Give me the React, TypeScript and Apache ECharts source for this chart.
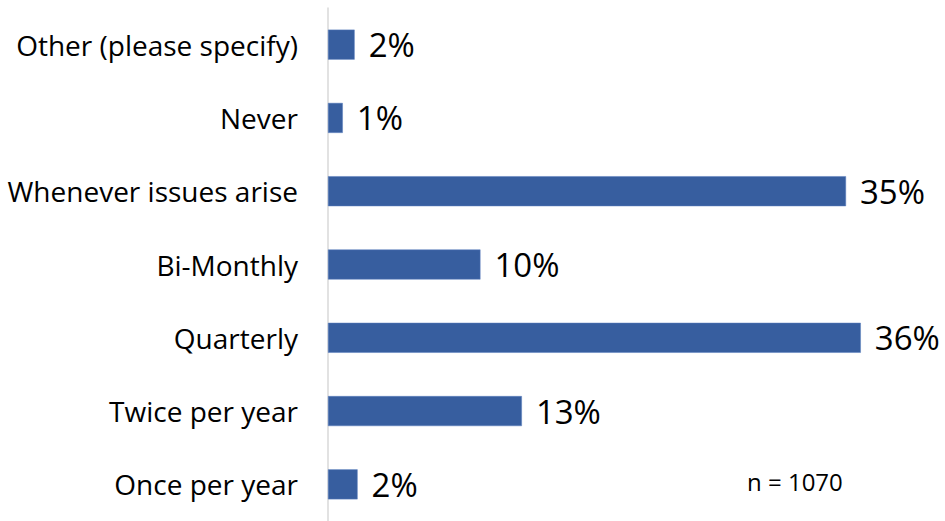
import React, { useEffect, useRef } from "react";
import * as echarts from "echarts";

const categories = [
  "Other (please specify)",
  "Never",
  "Whenever issues arise",
  "Bi-Monthly",
  "Quarterly",
  "Twice per year",
  "Once per year",
];
const values = [1.8, 1.0, 35.0, 10.3, 36.0, 13.1, 2.0];
const sampleNote = "n = 1070";

export default function App() {
  const ref = useRef<HTMLDivElement>(null);
  useEffect(() => {
    if (!ref.current) return;
    const chart = echarts.init(ref.current, null, { renderer: "svg" });
    const font = "'Open Sans', 'Liberation Sans', sans-serif";
    chart.setOption({
      animation: false,
      backgroundColor: "#ffffff",
      grid: { left: 328, top: 8, width: 592, height: 518, containLabel: false },
      xAxis: {
        type: "value",
        min: 0,
        max: 40,
        show: false,
        splitLine: { show: false },
      },
      yAxis: {
        type: "category",
        inverse: true,
        data: categories,
        axisLine: { show: true, lineStyle: { color: "#d9d9d9", width: 1.5 } },
        axisTick: { show: false },
        axisLabel: {
          margin: 30,
          color: "#000000",
          fontSize: 28,
          fontFamily: font,
        },
      },
      series: [
        {
          type: "bar",
          data: values,
          barWidth: 30,
          itemStyle: { color: "#375E9F", borderColor: "#5b7fbf", borderWidth: 0.5 },
          label: {
            show: true,
            position: "right",
            distance: 14,
            color: "#000000",
            fontSize: 33,
            fontFamily: font,
            formatter: (p: any) => `${Math.round(p.value)}%`,
          },
        },
      ],
      graphic: [
        {
          type: "text",
          x: 747,
          y: 481,
          style: {
            text: sampleNote,
            fill: "#000000",
            fontSize: 24,
            fontFamily: font,
            textVerticalAlign: "middle",
          },
        },
      ],
    });
    return () => chart.dispose();
  }, []);
  return (
    <div
      ref={ref}
      style={{ position: "fixed", left: 0, top: 0, width: 945, height: 521 }}
    />
  );
}
